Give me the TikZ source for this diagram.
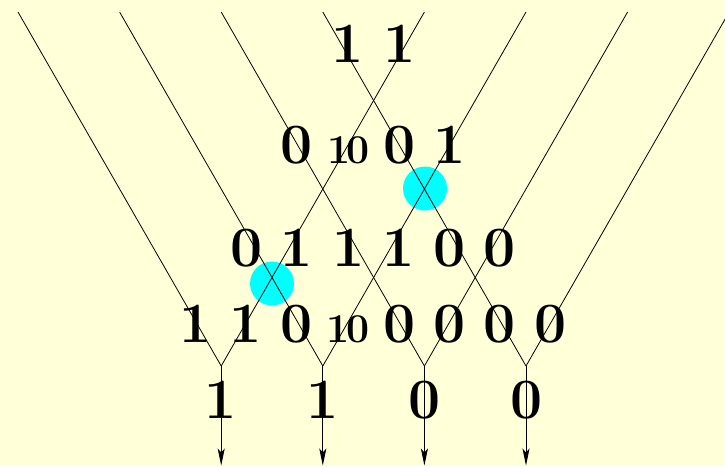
\documentclass[tikz,border=0pt]{standalone}
\usepackage{fontspec}
\usetikzlibrary{arrows.meta}
\definecolor{bgyellow}{RGB}{255,255,216}
\definecolor{hilite}{RGB}{0,255,255}
\begin{document}
\begin{tikzpicture}[x=1pt,y=-1pt,
  wire/.style={draw=black,line width=0.8pt},
  outwire/.style={wire,-{Stealth[length=17pt,width=7pt,inset=4pt]}},
  big/.style={anchor=base,inner sep=0pt,font=\fontsize{57}{57}\selectfont\bfseries},
  small/.style={anchor=base,inner sep=0pt,font=\fontsize{41}{41}\selectfont\bfseries},
  swapmark/.style={circle,fill=hilite,minimum size=44pt,inner sep=0pt}]
\fill[bgyellow] (0,0) rectangle (725,466);
\useasboundingbox (0,0) rectangle (725,466);
% highlight circles
\node[swapmark] (c1) at (425,188.5) {};
\node[swapmark] (c2) at (272,283.5) {};
% top ends
\coordinate (t1) at (18,12);
\coordinate (t2) at (119.6,12);
\coordinate (t3) at (221.2,12);
\coordinate (t4) at (322.8,12);
\coordinate (t5) at (424.4,12);
\coordinate (t6) at (526,12);
\coordinate (t7) at (627.6,12);
\coordinate (t8) at (729.2,12);
% merge points
\coordinate (m1) at (221.2,366);
\coordinate (m2) at (322.8,366);
\coordinate (m3) at (424.4,366);
\coordinate (m4) at (526,366);
% outputs
\coordinate (o1) at (221.2,465.5);
\coordinate (o2) at (322.8,465.5);
\coordinate (o3) at (424.4,465.5);
\coordinate (o4) at (526,465.5);
\draw[wire] (t1) -- (m1);
\draw[wire] (t5) -- (m1);
\draw[wire] (t2) -- (m2);
\draw[wire] (t6) -- (m2);
\draw[wire] (t3) -- (m3);
\draw[wire] (t7) -- (m3);
\draw[wire] (t4) -- (m4);
\draw[wire] (t8) -- (m4);
\draw[outwire] (m1) -- (o1);
\draw[outwire] (m2) -- (o2);
\draw[outwire] (m3) -- (o3);
\draw[outwire] (m4) -- (o4);
% row 1
\node[big] (a1) at (348,62) {1};
\node[big] (a2) at (399.5,62) {1};
% row 2
\node[big] (b1) at (297,163) {0};
\node[small] (b2) at (348.5,163) {1\kern-4pt0};
\node[big] (b3) at (399.5,163) {0};
\node[big] (b4) at (449.5,163) {1};
% row 3
\node[big] (r1) at (246.5,266) {0};
\node[big] (r2) at (297,266) {1};
\node[big] (r3) at (348.5,266) {1};
\node[big] (r4) at (399,266) {1};
\node[big] (r5) at (450,266) {0};
\node[big] (r6) at (500,266) {0};
% row 4
\node[big] (s1) at (196,342) {1};
\node[big] (s2) at (246,342) {1};
\node[big] (s3) at (297,342) {0};
\node[small] (s4) at (348,342) {1\kern-4pt0};
\node[big] (s5) at (400,342) {0};
\node[big] (s6) at (450,342) {0};
\node[big] (s7) at (500,342) {0};
\node[big] (s8) at (551,342) {0};
% row 5
\node[big] (u1) at (221,418) {1};
\node[big] (u2) at (322.5,418) {1};
\node[big] (u3) at (425,418) {0};
\node[big] (u4) at (527,418) {0};
\end{tikzpicture}
\end{document}
